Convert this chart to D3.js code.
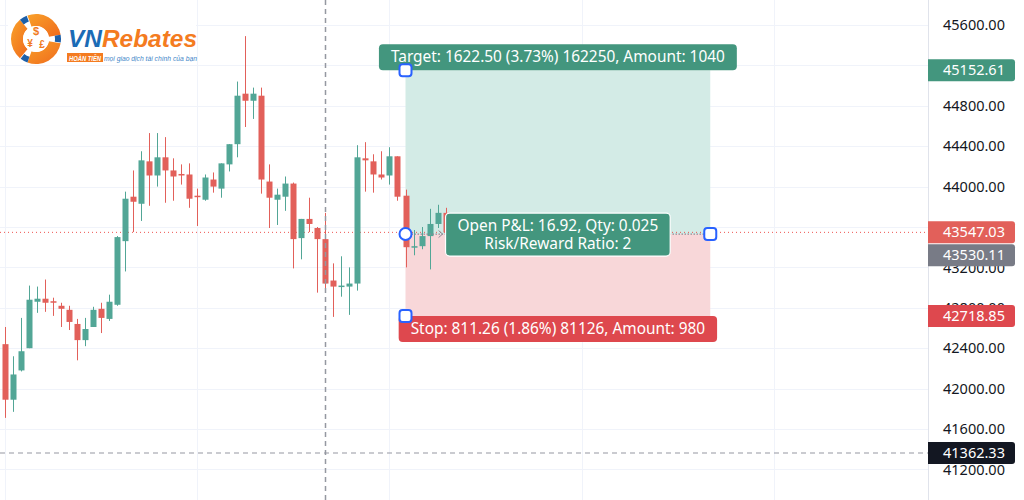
<!DOCTYPE html>
<html>
<head>
<meta charset="utf-8">
<script src="https://cdn.jsdelivr.net/npm/d3@7"></script>
<style>
  html, body { margin: 0; padding: 0; background: #ffffff; overflow: hidden; }
  svg { display: block; }
</style>
</head>
<body>
<svg id="chart" width="1024" height="500"></svg>
<script>
// ---- price data (one entry per bar) ----
const opens  = [42440,41890,42180,42400,42860,42890,42865,42820,42780,42640,42480,42610,42790,42690,42830,43460,43900,43830,44250,44110,44290,44160,44125,44120,43910,43870,44070,43980,44220,44420,44920,44850,44900,44050,43870,43900,44030,43490,43680,43590,43480,43070,43010,43010,43040,44280,44250,44120,44110,44300,43910,43400,43410,43510,43630,43740];
const highs  = [42610,42320,42700,43020,43010,43080,42900,42850,42820,42690,42700,42810,42850,42930,43510,43950,44160,44350,44530,44530,44490,44280,44220,44230,43980,44120,44140,44230,44420,45040,45490,44980,44980,44220,43980,44100,44040,43680,43890,43600,43740,43240,43310,43200,44410,44440,44320,44350,44390,44300,43970,43570,43600,43780,43820,43790];
const lows   = [41710,41770,42170,42400,42750,42760,42720,42610,42580,42280,42420,42610,42550,42670,42820,43160,43550,43660,43810,44000,43840,43860,44020,43790,43610,43860,43940,43890,44150,44290,44590,44670,43930,43590,43620,43760,43190,43280,43550,42950,42960,42710,42910,42730,42970,43950,43940,44070,44020,43860,43200,43320,43380,43180,43590,43520];
const closes = [41890,42140,42370,42880,42890,42850,42855,42790,42660,42480,42590,42780,42700,42860,43500,43880,43850,44260,44110,44290,44160,44100,44110,43880,43900,44090,44000,44230,44420,44900,44850,44920,44070,43890,43920,44030,43480,43680,43630,43480,43040,43010,43020,43040,44290,44260,44120,44090,44300,43900,43400,43410,43510,43630,43740,43547.03];

// ---- price axis ticks ----
const tickValues = [45600,45200,44800,44400,44000,43600,43200,42800,42400,42000,41600,41200];
// tick labels that sit fully under a price tag are not drawn
const hiddenTickLabels = [45200, 43600];
// bars that carry a vertical time grid line
const gridBars = [0,24,48,72,96];

// ---- long position tool ----
const entryPrice  = 43530.11;
const targetPrice = 45152.61;
const stopPrice   = 42718.85;
const lastPrice   = 43547.03;
const toolStartBar = 50, toolEndBar = 88;
const targetText = "Target: 1622.50 (3.73%) 162250, Amount: 1040";
const stopText   = "Stop: 811.26 (1.86%) 81126, Amount: 980";
const pnlLines   = ["Open P&L: 16.92, Qty: 0.025", "Risk/Reward Ratio: 2"];

// ---- crosshair ----
const crossBar = 40;
const crossPrice = 41362.33;

// ---- colours ----
const UP = "#52a696", DOWN = "#e2605a";
const GRID = "#f0f3fa";
const PROFIT_FILL = "#d3ebe6", LOSS_FILL = "#f8d7d9";
const PROFIT_LABEL = "#43967e", LOSS_LABEL = "#de484e";
const HANDLE = "#2962ff";

const W = 1024, H = 500, axisX = 928;
const svg = d3.select("#chart");
const FONT = "'Noto Sans', 'Open Sans', sans-serif";
const FS = 14.5;        // price scale
const LABEL_FS = 15.4;  // position tool labels

const x = d3.scaleLinear().domain([0, 96]).range([4.5, 4.5 + 96 * 8.02]);
const y = d3.scaleLinear().domain([41200, 45600]).range([469.4, 25]);

// ---- grid ----
const grid = svg.append("g");
grid.selectAll(".hg").data(tickValues).join("line")
  .attr("x1", 0).attr("x2", axisX)
  .attr("y1", d => Math.round(y(d)) + 0.5).attr("y2", d => Math.round(y(d)) + 0.5)
  .attr("stroke", GRID).attr("stroke-width", 1);
grid.selectAll(".vg").data(gridBars).join("line")
  .attr("x1", d => Math.round(x(d)) + 0.5).attr("x2", d => Math.round(x(d)) + 0.5)
  .attr("y1", 0).attr("y2", H)
  .attr("stroke", GRID).attr("stroke-width", 1);

// ---- position tool zones ----
const tx0 = x(toolStartBar), tx1 = x(toolEndBar), tmid = (tx0 + tx1) / 2;
svg.append("rect")
  .attr("x", tx0).attr("y", y(targetPrice))
  .attr("width", tx1 - tx0).attr("height", y(entryPrice) - y(targetPrice))
  .attr("fill", PROFIT_FILL);
svg.append("rect")
  .attr("x", tx0).attr("y", y(entryPrice))
  .attr("width", tx1 - tx0).attr("height", y(stopPrice) - y(entryPrice))
  .attr("fill", LOSS_FILL);

// ---- last price line ----
svg.append("line")
  .attr("x1", 0).attr("x2", axisX)
  .attr("y1", y(lastPrice)).attr("y2", y(lastPrice))
  .attr("stroke", "#ef5350").attr("stroke-width", 1)
  .attr("stroke-dasharray", "1,3");

// ---- candles ----
const bars = d3.range(opens.length).map(i => ({
  i, o: opens[i], h: highs[i], l: lows[i], c: closes[i]
}));
const cg = svg.append("g");
const cx = d => Math.round(x(d.i));
cg.selectAll(".wick").data(bars).join("line")
  .attr("x1", d => cx(d) + 0.5).attr("x2", d => cx(d) + 0.5)
  .attr("y1", d => y(d.h)).attr("y2", d => y(d.l))
  .attr("stroke", d => d.c >= d.o ? UP : DOWN).attr("stroke-width", 1);
cg.selectAll(".body").data(bars).join("rect")
  .attr("x", d => cx(d) - 2.5)
  .attr("width", 6)
  .attr("y", d => y(Math.max(d.o, d.c)))
  .attr("height", d => Math.max(1.5, Math.abs(y(d.o) - y(d.c))))
  .attr("fill", d => d.c >= d.o ? UP : DOWN);

// ---- entry-to-current dotted line with arrow ----
const ey = y(entryPrice);
svg.append("line")
  .attr("x1", tx0 + 6).attr("x2", tx1 - 6)
  .attr("y1", ey).attr("y2", ey)
  .attr("stroke", "#8a8d96").attr("stroke-width", 1.2)
  .attr("stroke-dasharray", "1.5,1.5");
svg.append("path")
  .attr("d", `M${x(54) + 1},${ey - 3.5} L${x(54) + 5},${ey} L${x(54) + 1},${ey + 3.5}`)
  .attr("fill", "none").attr("stroke", "#8a8d96").attr("stroke-width", 1);

// ---- crosshair ----
svg.append("line")
  .attr("x1", Math.round(x(crossBar)) + 0.5).attr("x2", Math.round(x(crossBar)) + 0.5)
  .attr("y1", 0).attr("y2", H)
  .attr("stroke", "#9598a1").attr("stroke-width", 1.5)
  .attr("stroke-dasharray", "5,4");
svg.append("line")
  .attr("x1", 0).attr("x2", axisX)
  .attr("y1", y(crossPrice)).attr("y2", y(crossPrice))
  .attr("stroke", "#9598a1").attr("stroke-width", 1.2)
  .attr("stroke-dasharray", "5,4");

// ---- position tool labels ----
function label(lines, fill, cxp, anchorY, place) {
  const g = svg.append("g");
  const lh = 18;
  const texts = lines.map(t => g.append("text")
    .attr("x", cxp).attr("text-anchor", "middle")
    .attr("font-family", FONT).attr("font-size", LABEL_FS)
    .attr("fill", "#ffffff").text(t));
  const w = Math.max(...texts.map(t => t.node().getComputedTextLength())) + 24;
  const h = lines.length === 1 ? 26 : 43;
  let top;
  if (place === "above") top = anchorY - h;
  else if (place === "below") top = anchorY;
  else top = anchorY - h / 2;
  g.insert("rect", "text")
    .attr("x", cxp - w / 2).attr("y", top)
    .attr("width", w).attr("height", h)
    .attr("rx", 4).attr("fill", fill)
    .attr("stroke", place === "center" ? "#ffffff" : "none")
    .attr("stroke-width", place === "center" ? 1.2 : 0);
  const firstBase = top + h / 2 - (lines.length - 1) * lh / 2 + 5.3;
  texts.forEach((t, k) => t.attr("y", firstBase + k * lh));
}
label([targetText], PROFIT_LABEL, tmid, y(targetPrice), "above");
label([stopText], LOSS_LABEL, tmid, y(stopPrice), "below");
label(pnlLines, PROFIT_LABEL, tmid, ey + 0.5, "center");

// ---- handles ----
svg.append("circle")
  .attr("cx", tx0).attr("cy", ey).attr("r", 6)
  .attr("fill", "#ffffff").attr("stroke", HANDLE).attr("stroke-width", 2);
[[tx0, y(targetPrice)], [tx1, ey], [tx0, y(stopPrice)]].forEach(([hx, hy]) => {
  svg.append("rect")
    .attr("x", hx - 6).attr("y", hy - 6).attr("width", 12).attr("height", 12)
    .attr("rx", 3)
    .attr("fill", "#ffffff").attr("stroke", HANDLE).attr("stroke-width", 2);
});

// ---- price scale ----
svg.append("rect").attr("x", axisX).attr("y", 0).attr("width", W - axisX).attr("height", H).attr("fill", "#ffffff");
svg.append("line")
  .attr("x1", axisX + 0.5).attr("x2", axisX + 0.5).attr("y1", 0).attr("y2", H)
  .attr("stroke", "#e0e3eb").attr("stroke-width", 1);

const axis = d3.axisRight(y)
  .tickValues(tickValues.filter(v => !hiddenTickLabels.includes(v)))
  .tickFormat(d => d.toFixed(2)).tickSize(0).tickPadding(15);
const ag = svg.append("g").attr("transform", `translate(${axisX},0)`).call(axis);
ag.select(".domain").remove();
ag.selectAll("text")
  .attr("font-family", FONT).attr("font-size", FS).attr("fill", "#131722");

// price tags on the scale
const tags = [
  { v: targetPrice, fill: PROFIT_LABEL },
  { v: lastPrice, fill: DOWN },
  { v: entryPrice, fill: "#787b86", shift: 23 },
  { v: stopPrice, fill: LOSS_LABEL },
  { v: crossPrice, fill: "#131722" }
];
tags.forEach(t => {
  let cy = y(t.v);
  if (t.shift) cy = Math.max(cy, y(lastPrice) + t.shift);
  const g = svg.append("g");
  g.append("path")
    .attr("d", `M${axisX},${cy - 11} H${1012} Q${1015},${cy - 11} ${1015},${cy - 8} V${cy + 8} Q${1015},${cy + 11} ${1012},${cy + 11} H${axisX} Z`)
    .attr("fill", t.fill);
  g.append("text")
    .attr("x", 943).attr("y", cy + 5)
    .attr("font-family", FONT).attr("font-size", FS)
    .attr("fill", "#ffffff").text(t.v.toFixed(2));
});

// ---- brand mark ----
const logo = svg.append("g");
logo.append("rect").attr("x", 8).attr("y", 12).attr("width", 188).attr("height", 51).attr("fill", "#ffffff");
const ecx = 36, ecy = 39;
const em = logo.append("g").attr("transform", `translate(${ecx},${ecy})`);
const defs = svg.append("defs");
const grad = defs.append("linearGradient").attr("id", "og").attr("x1", "0").attr("y1", "0").attr("x2", "1").attr("y2", "1");
grad.append("stop").attr("offset", "0").attr("stop-color", "#f9a12a");
grad.append("stop").attr("offset", "1").attr("stop-color", "#ef6a1c");
const blade = d3.arc().innerRadius(13).outerRadius(25);
const tip = d3.arc().innerRadius(19).outerRadius(25);
[0, 1, 2].forEach(k => {
  const a0 = (k * 120 - 20) * Math.PI / 180;
  em.append("path")
    .attr("d", blade({ startAngle: a0, endAngle: a0 + 100 * Math.PI / 180 }))
    .attr("fill", "url(#og)");
  em.append("path")
    .attr("d", tip({ startAngle: a0 + 100 * Math.PI / 180, endAngle: a0 + 118 * Math.PI / 180 }))
    .attr("fill", "#1c5fa8");
});
em.append("circle").attr("r", 13).attr("fill", "#ffffff");
[["$", 0, -4, 11], ["¥", -6, 8, 10], ["£", 6, 9, 10]].forEach(([s, sx, sy, fs]) => {
  em.append("text").attr("x", sx).attr("y", sy).attr("text-anchor", "middle")
    .attr("font-family", "'Liberation Sans', Arial, sans-serif").attr("font-weight", "bold")
    .attr("font-size", fs).attr("fill", "#f07a22").text(s);
});
const brand = logo.append("text")
  .attr("x", 68).attr("y", 47)
  .attr("font-family", "'Liberation Sans', Arial, sans-serif")
  .attr("font-weight", "bold").attr("font-style", "italic")
  .attr("font-size", 24).attr("textLength", 129).attr("lengthAdjust", "spacingAndGlyphs");
brand.append("tspan").attr("fill", "#1b6bb5").text("VN");
brand.append("tspan").attr("fill", "#f47b20").text("Rebates");
logo.append("rect").attr("x", 67).attr("y", 53).attr("width", 36).attr("height", 9).attr("fill", "#f47b20");
logo.append("text").attr("x", 85).attr("y", 60.5).attr("text-anchor", "middle")
  .attr("font-family", "'Liberation Sans', Arial, sans-serif")
  .attr("font-weight", "bold").attr("font-style", "italic")
  .attr("font-size", 7).attr("fill", "#ffffff")
  .attr("textLength", 32).attr("lengthAdjust", "spacingAndGlyphs").text("HOÀN TIỀN");
logo.append("text").attr("x", 104).attr("y", 60.5)
  .attr("font-family", "'Liberation Sans', Arial, sans-serif")
  .attr("font-style", "italic")
  .attr("font-size", 7.5).attr("fill", "#3f86c8")
  .attr("textLength", 93).attr("lengthAdjust", "spacingAndGlyphs")
  .text("mọi giao dịch tài chính của bạn");
</script>
</body>
</html>
